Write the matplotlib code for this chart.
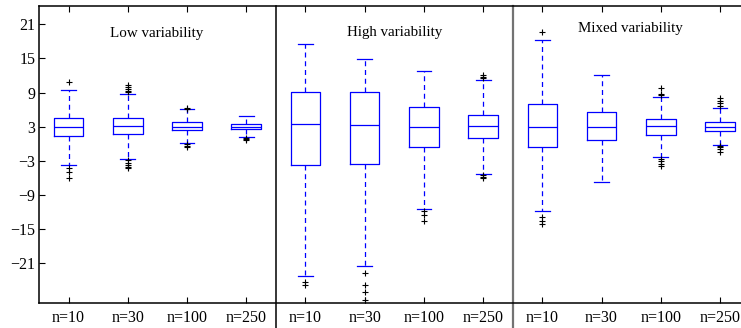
import numpy as np
import matplotlib
matplotlib.use("Agg")
import matplotlib.pyplot as plt

plt.rcParams['font.family'] = ['Liberation Serif', 'DejaVu Serif']

# box statistics, 12 boxes (3 panels x 4 sample sizes)
labels = ['n=10', 'n=30', 'n=100', 'n=250'] * 3
panel_titles = ['Low variability', 'High variability', 'Mixed variability']

whishi = [9.4, 8.7, 6.05, 4.9,
          17.5, 14.9, 12.8, 11.2,
          18.2, 12.1, 8.15, 6.3]
q3 = [4.6, 4.6, 3.8, 3.5,
      9.1, 9.1, 6.5, 5.1,
      7.0, 5.6, 4.3, 3.9]
med = [3.0, 3.1, 3.0, 3.0,
       3.4, 3.3, 2.9, 3.1,
       2.95, 3.0, 3.05, 3.0]
q1 = [1.3, 1.65, 2.35, 2.55,
      -3.8, -3.5, -0.6, 1.0,
      -0.55, 0.6, 1.6, 2.2]
whislo = [-3.7, -2.7, 0.2, 1.25,
          -23.2, -21.4, -11.4, -5.25,
          -11.85, -6.65, -2.3, -0.2]
fliers = [
    [10.9, -4.2, -5.0, -6.0],
    [10.3, 9.9, 9.6, 9.3, 9.1, -2.9, -3.3, -3.7, -4.0, -4.3],
    [6.2, 6.3, -0.1, -0.3, -0.5],
    [1.05, 0.9, 0.7],
    [-24.3, -24.7],
    [-22.6, -24.8, -26.0, -27.4],
    [-11.75, -12.5, -13.5],
    [12.1, 11.8, 11.5, -5.5, -5.8, -6.0],
    [19.7, -12.9, -13.5, -14.1],
    [],
    [9.85, 8.7, 8.5, -2.7, -3.1, -3.5, -3.9],
    [8.1, 7.6, 7.2, 6.6, -0.35, -0.6, -0.9, -1.4],
]

stats = []
for i in range(len(labels)):
    stats.append(dict(med=med[i], q1=q1[i], q3=q3[i], whislo=whislo[i],
                      whishi=whishi[i], fliers=np.array(fliers[i]), label=labels[i]))

fig = plt.figure(figsize=(7.41, 3.28), dpi=100)
# axes runs past the right edge of the figure, as in the original
ax = fig.add_axes([39/741, 24.7/328, 710.6/741, 297.3/328])

positions = np.arange(1, 13)
ax.bxp(stats, positions=positions, widths=0.5,
       boxprops=dict(color='b', lw=0.9),
       medianprops=dict(color='b', lw=0.9),
       whiskerprops=dict(color='b', lw=0.9, linestyle=(0, (4, 3))),
       capprops=dict(color='b', lw=0.9),
       flierprops=dict(marker='+', markeredgecolor='k', markersize=4, markeredgewidth=0.8))

ax.axvline(4.5, ymin=-0.085, ymax=1, color='k', lw=1.1, clip_on=False)
ax.axvline(8.5, ymin=-0.085, ymax=1, color='0.45', lw=1.6, clip_on=False)

title_x = [2.48, 6.51, 10.48]
title_y = [19.4, 19.6, 20.3]
for j, t in enumerate(panel_titles):
    ax.text(title_x[j], title_y[j], t, ha='center', va='center', fontsize=10.8)

ax.set_xlim(0.5, 12.5)
ax.set_ylim(-28, 24.2)
ax.set_yticks(np.arange(-21, 22, 6))
ax.set_xticks(positions)
ax.set_xticklabels(labels)
ax.tick_params(direction='in', top=True, right=True, length=4, width=0.8,
               labelsize=11.5)
ax.tick_params(axis='x', pad=5)
ax.tick_params(axis='y', pad=2.5)
for s in ax.spines.values():
    s.set_linewidth(1.1)

fig.savefig('out.png', dpi=100)
